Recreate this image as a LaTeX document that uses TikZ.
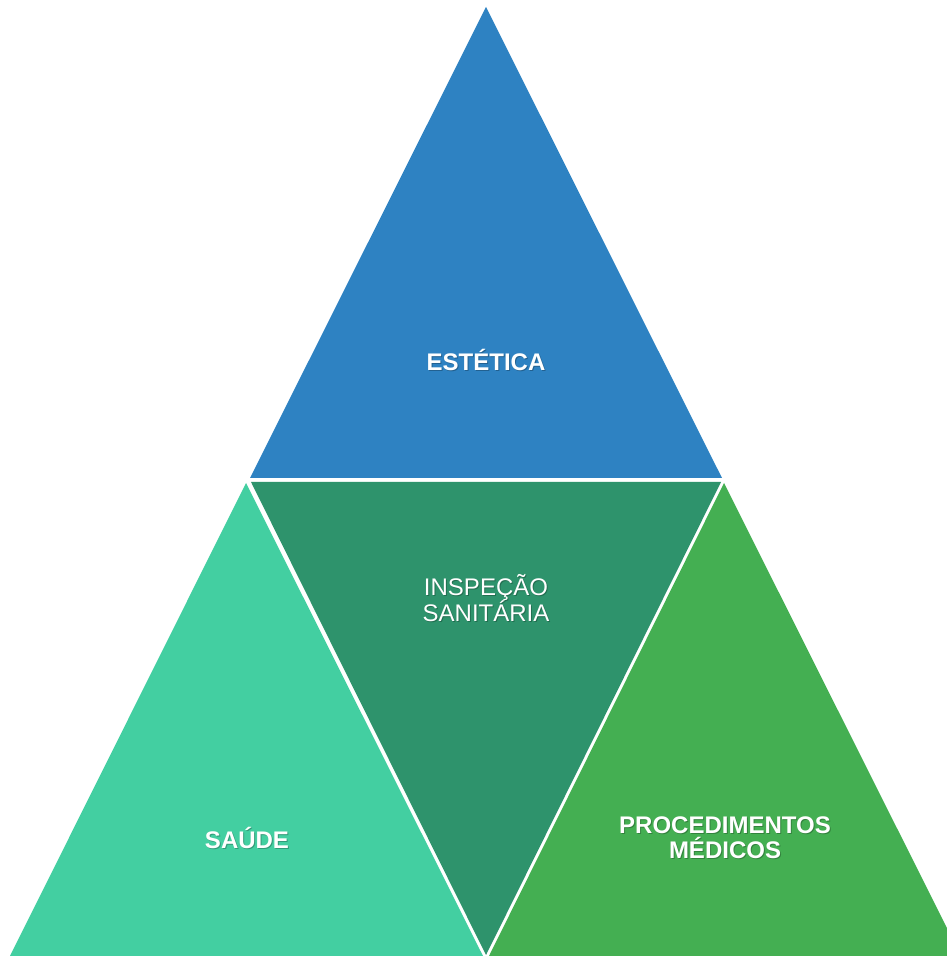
\documentclass[tikz,border=0pt]{standalone}
\usepackage{fontspec}
\setmainfont{Liberation Sans}
\definecolor{cblue}{RGB}{46,130,194}
\definecolor{cdeep}{RGB}{46,147,108}
\definecolor{cteal}{RGB}{67,207,161}
\definecolor{cgreen}{RGB}{68,175,82}
\begin{document}
\begin{tikzpicture}[x=1pt,y=1pt,
  lbl/.style={text=white,align=center,font=\fontsize{24}{26}\selectfont},
  shadowlbl/.style={text=black,opacity=0.25,align=center,font=\fontsize{24}{26}\selectfont}]
\useasboundingbox (0,0) rectangle (947,959);
\clip (0,0) rectangle (947,959);
\fill[white] (0,0) rectangle (947,959);
% four triangles of the pyramid
\fill[cblue]  (486,952) -- (250,481) -- (722,481) -- cycle;
\fill[cdeep]  (251,477) -- (721,477) -- (486,4) -- cycle;
\fill[cteal]  (246,476) -- (10,3) -- (483,3) -- cycle;
\fill[cgreen] (724,476) -- (489,3) -- (961,3) -- cycle;
% labels with a soft drop shadow
\node[shadowlbl,font=\bfseries\fontsize{24}{26}\selectfont] at (487,598) {ESTÉTICA};
\node[lbl,font=\bfseries\fontsize{24}{26}\selectfont] (est) at (486,599) {ESTÉTICA};
\node[shadowlbl] at (487,360) {INSPEÇÃO\\SANITÁRIA};
\node[lbl] (ins) at (486,361) {INSPEÇÃO\\SANITÁRIA};
\node[shadowlbl,font=\bfseries\fontsize{24}{26}\selectfont] at (248,120) {SAÚDE};
\node[lbl,font=\bfseries\fontsize{24}{26}\selectfont] (sau) at (247,121) {SAÚDE};
\node[shadowlbl,font=\bfseries\fontsize{24}{25}\selectfont] at (726,120) {PROCEDIMENTOS\\MÉDICOS};
\node[lbl,font=\bfseries\fontsize{24}{25}\selectfont] (proc) at (725,121) {PROCEDIMENTOS\\MÉDICOS};
\end{tikzpicture}
\end{document}
